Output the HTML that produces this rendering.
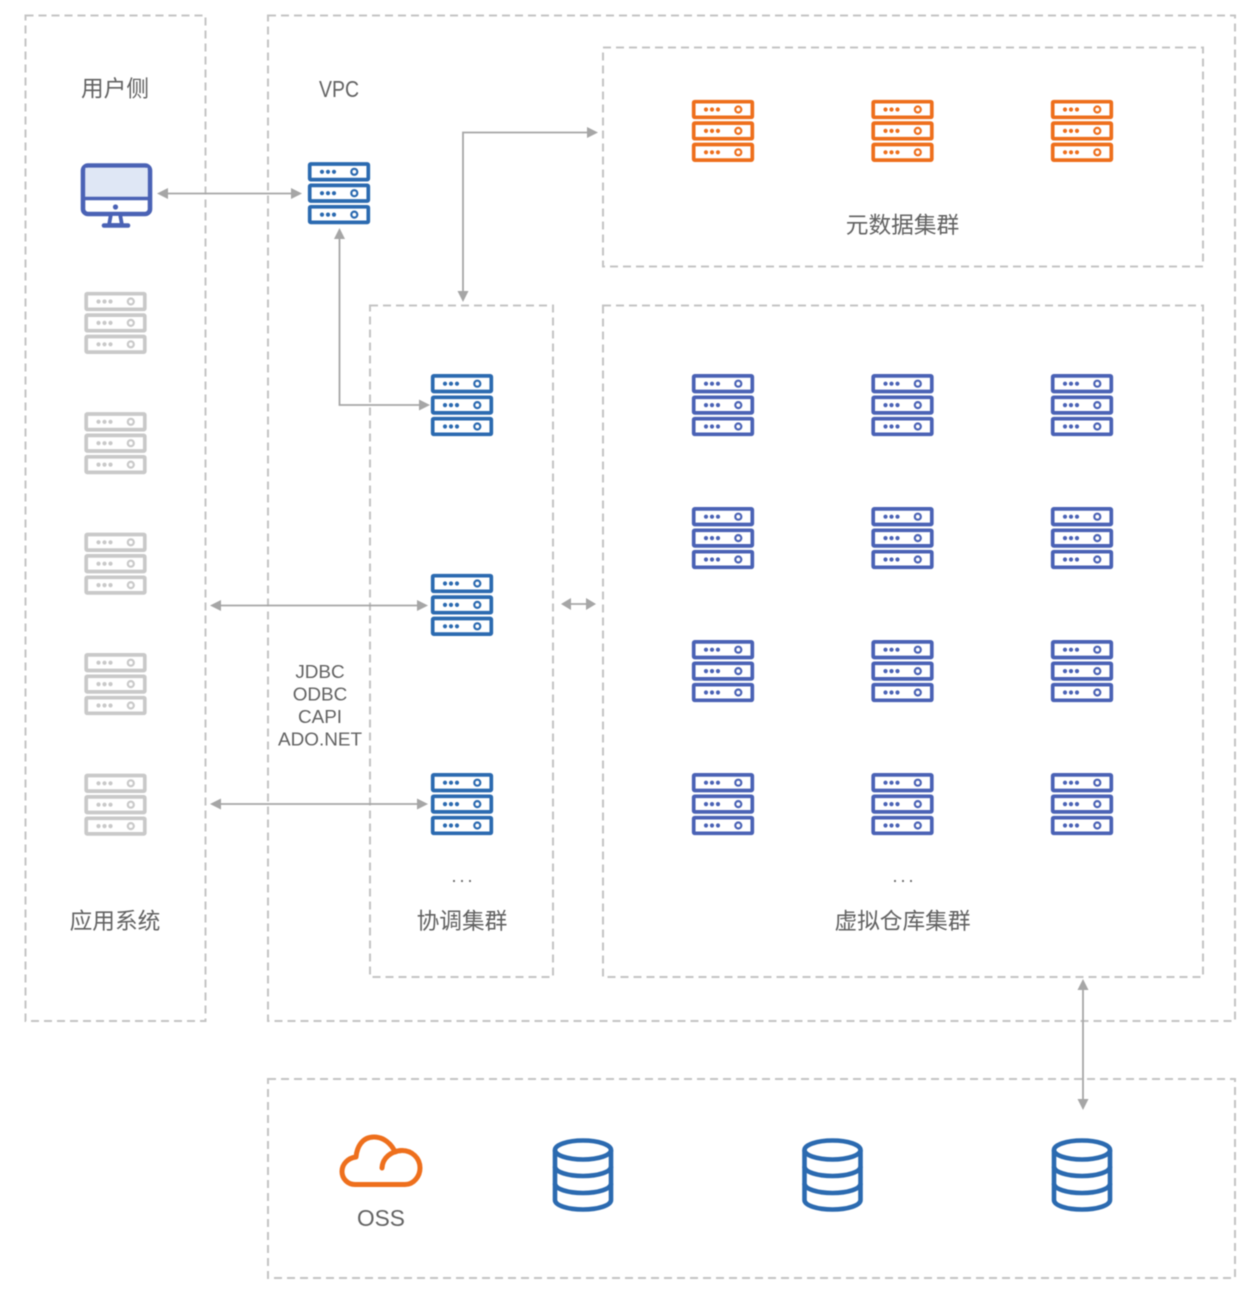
<!DOCTYPE html>
<html lang="zh">
<head>
<meta charset="utf-8">
<title>架构图</title>
<style>
html,body{margin:0;padding:0;background:#fff;width:1246px;height:1292px;overflow:hidden}
svg{display:block;filter:blur(.55px)}
text{font-family:"Liberation Sans","Noto Sans CJK SC",sans-serif;fill:#626262;text-anchor:middle}
.box{fill:none;stroke:#c4c4c4;stroke-width:2;stroke-dasharray:8 5}
.ln{fill:none;stroke:#a6a6a6;stroke-width:1.8}
.hd{fill:#a6a6a6}
.c{font-size:22.7px}
.l{font-size:18.9px}
</style>
</head>
<body>
<svg width="1246" height="1292" viewBox="0 0 1246 1292" xmlns="http://www.w3.org/2000/svg">
<defs>
<g id="srv">
  <g id="row">
    <rect x="-29.3" y="-29.3" width="58.6" height="15.6" rx="1" fill="#fff" stroke="currentColor" stroke-width="3.7"/>
    <circle cx="-17" cy="-21.5" r="2.1" fill="currentColor"/>
    <circle cx="-11" cy="-21.5" r="2.1" fill="currentColor"/>
    <circle cx="-5" cy="-21.5" r="2.1" fill="currentColor"/>
    <circle cx="15.3" cy="-21.5" r="3" fill="none" stroke="currentColor" stroke-width="2.2"/>
  </g>
  <use href="#row" y="21.4"/>
  <use href="#row" y="42.8"/>
</g>
<g id="db" fill="none" stroke="#2b6ab0" stroke-width="4.6">
  <ellipse cx="0" cy="-25" rx="28" ry="9.5"/>
  <path d="M-28,-25V25C-28,30.5 -15,34.5 0,34.5C15,34.5 28,30.5 28,25V-25"/>
  <path d="M-28,-8.5C-28,-3 -15,1 0,1C15,1 28,-3 28,-8.5"/>
  <path d="M-28,8.5C-28,14 -15,18 0,18C15,18 28,14 28,8.5"/>
</g>
</defs>

<!-- dashed containers -->
<rect class="box" x="25.5" y="15.5" width="180" height="1005.5"/>
<rect class="box" x="268" y="15.5" width="967" height="1005.5"/>
<rect class="box" x="603" y="47.5" width="600" height="219"/>
<rect class="box" x="370" y="305.5" width="183" height="671.5"/>
<rect class="box" x="603" y="305.5" width="600" height="671.5"/>
<rect class="box" x="268" y="1079" width="967" height="199"/>

<!-- connectors -->
<path class="ln" d="M165,193.500H293"/>
<path class="hd" d="M157,193.500l11,-5.500v11z M302,193.500l-11,-5.500v11z"/>
<path class="ln" d="M339.500,236V405H422"/>
<path class="hd" d="M339.500,228l-5.500,11h11z M430,405l-11,-5.500v11z"/>
<path class="ln" d="M463,293V132.500H590"/>
<path class="hd" d="M463,302l-5.500,-11h11z M598,132.500l-11,-5.500v11z"/>
<path class="ln" d="M218,605.500H420"/>
<path class="hd" d="M210,605.500l11,-5.500v11z M428,605.500l-11,-5.500v11z"/>
<path class="ln" d="M218,804H420"/>
<path class="hd" d="M210,804l11,-5.500v11z M428,804l-11,-5.500v11z"/>
<path class="ln" d="M569,604H588"/>
<path class="hd" d="M561,604l10,-6v12z M596,604l-10,-6v12z"/>
<path class="ln" d="M1083,988V1102"/>
<path class="hd" d="M1083,979l-5.500,11h11z M1083,1110l-5.500,-11h11z"/>

<!-- monitor -->
<g>
  <rect x="83" y="165.500" width="67" height="48.500" rx="5" fill="#fff" stroke="#4a62b5" stroke-width="4.600"/>
  <rect x="85.300" y="167.800" width="62.400" height="29.500" fill="#dfe7f5"/>
  <path d="M83,198.500H150" stroke="#4a62b5" stroke-width="3.400" fill="none"/>
  <circle cx="115.500" cy="207" r="2.600" fill="#4a62b5"/>
  <path d="M111,214L109,225H122L120,214Z" fill="#fff" stroke="#4a62b5" stroke-width="3.800"/>
  <path d="M104,225.500H128" stroke="#4a62b5" stroke-width="4.600" stroke-linecap="round"/>
</g>

<!-- VPC server -->
<g color="#2b6ab0"><use href="#srv" x="339" y="193.300"/></g>

<!-- gray application servers -->
<g color="#c9c9c9">
  <use href="#srv" x="115.500" y="323"/>
  <use href="#srv" x="115.500" y="443.300"/>
  <use href="#srv" x="115.500" y="563.800"/>
  <use href="#srv" x="115.500" y="684.200"/>
  <use href="#srv" x="115.500" y="804.800"/>
</g>

<!-- coordinator servers -->
<g color="#2b6ab0">
  <use href="#srv" x="462" y="405.200"/>
  <use href="#srv" x="462" y="605"/>
  <use href="#srv" x="462" y="804.200"/>
</g>

<!-- metadata servers -->
<g color="#ee6f1c">
  <use href="#srv" x="723" y="131"/>
  <use href="#srv" x="902.500" y="131"/>
  <use href="#srv" x="1082" y="131"/>
</g>

<!-- virtual warehouse servers -->
<g color="#4a62b5">
  <use href="#srv" x="723" y="405.200"/><use href="#srv" x="902.500" y="405.200"/><use href="#srv" x="1082" y="405.200"/>
  <use href="#srv" x="723" y="538.200"/><use href="#srv" x="902.500" y="538.200"/><use href="#srv" x="1082" y="538.200"/>
  <use href="#srv" x="723" y="671.200"/><use href="#srv" x="902.500" y="671.200"/><use href="#srv" x="1082" y="671.200"/>
  <use href="#srv" x="723" y="804.200"/><use href="#srv" x="902.500" y="804.200"/><use href="#srv" x="1082" y="804.200"/>
</g>

<!-- storage -->
<g fill="none" stroke="#ee6f1c" stroke-width="5" stroke-linecap="round" stroke-linejoin="round">
  <path d="M355,1184.500H405C414,1184.500 420,1176 420,1168C420,1158 412,1150.500 402,1150.500C399,1150.500 397,1151 395,1152C391,1143 383,1137 374,1137C362,1137 357,1147 356,1157C348,1158 342,1164 342,1171.500C342,1179 348,1184.500 355,1184.500Z"/>
  <path d="M382,1168C382.500,1158 391,1151 402,1150.500"/>
</g>
<use href="#db" x="583" y="1175"/>
<use href="#db" x="832.500" y="1175"/>
<use href="#db" x="1082" y="1175"/>

<!-- labels -->
<text class="c" x="115" y="96.500">用户侧</text>
<text x="339" y="97" style="font-size:23px" textLength="40" lengthAdjust="spacingAndGlyphs">VPC</text>
<text class="c" x="902.500" y="233">元数据集群</text>
<text class="c" x="115" y="929">应用系统</text>
<text class="c" x="462" y="929">协调集群</text>
<text class="c" x="902.500" y="929">虚拟仓库集群</text>
<text class="l" x="320" y="678">JDBC</text>
<text class="l" x="320" y="700.500">ODBC</text>
<text class="l" x="320" y="723">CAPI</text>
<text class="l" x="320" y="745.500">ADO.NET</text>
<text x="463.500" y="882" style="font-size:18px;letter-spacing:3px">...</text>
<text x="904.500" y="882" style="font-size:18px;letter-spacing:3px">...</text>
<text x="381" y="1226" style="font-size:22.700px">OSS</text>
</svg>
</body>
</html>
